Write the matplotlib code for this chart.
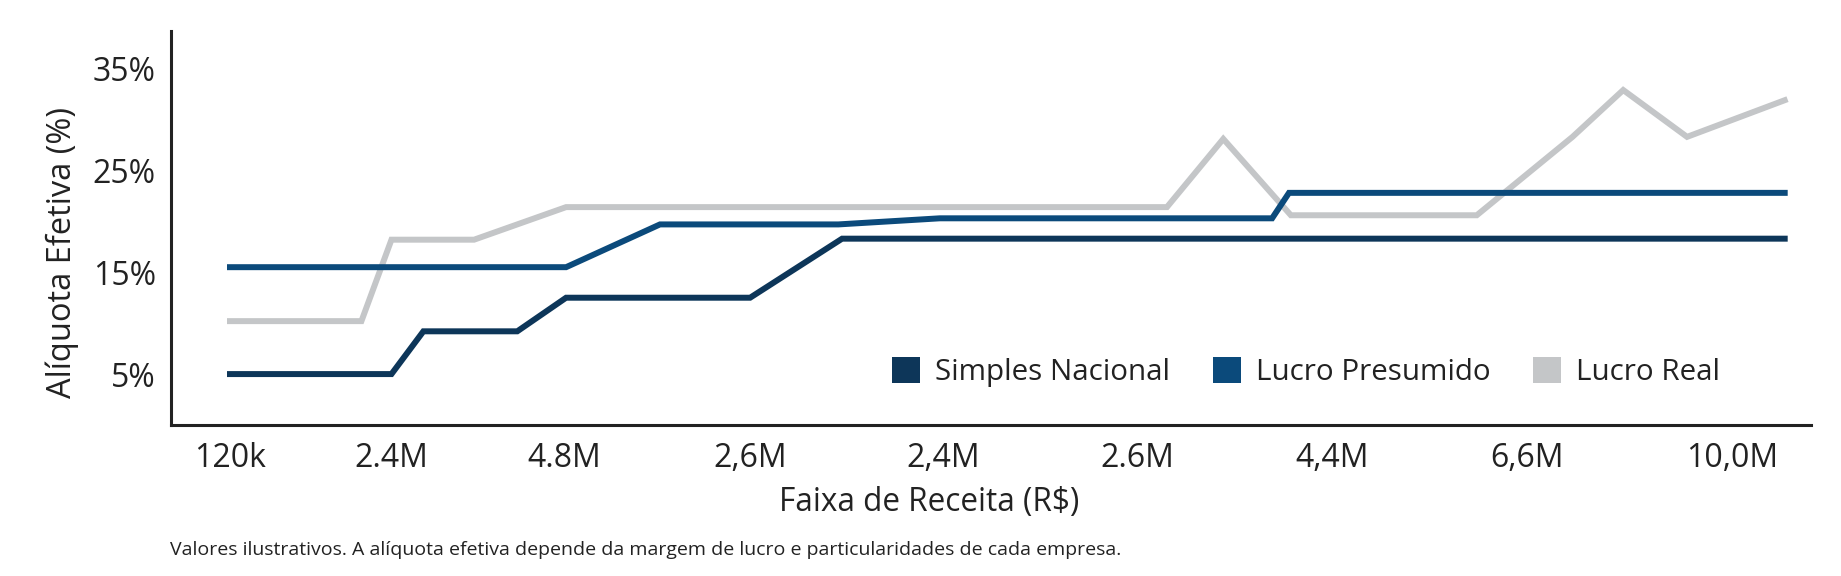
import matplotlib.pyplot as plt
from matplotlib.patches import Patch

plt.rcParams['font.family'] = ['Open Sans', 'DejaVu Sans']

# Posições das faixas no eixo (unidade = largura média de uma faixa)
faixas_pos = [0, 0.86, 1.78, 2.77, 3.80, 4.83, 5.87, 6.91, 8.0]
faixas_rotulos = ['120k', '2.4M', '4.8M', '2,6M', '2,4M', '2.6M', '4,4M', '6,6M', '10,0M']

# Simples Nacional
x_simples = [0, 0.86, 1.03, 1.53, 1.79, 2.77, 3.26, 8.28]
y_simples = [5.0, 5.0, 9.2, 9.2, 12.5, 12.5, 18.3, 18.3]

# Lucro Presumido
x_presumido = [0, 1.79, 2.29, 3.24, 3.78, 5.55, 5.64, 8.28]
y_presumido = [15.5, 15.5, 19.7, 19.7, 20.3, 20.3, 22.8, 22.8]

# Lucro Real
x_real = [0, 0.70, 0.86, 1.30, 1.79, 4.99, 5.29, 5.65, 6.64, 7.15, 7.42, 7.76, 8.28]
y_real = [10.2, 10.2, 18.2, 18.2, 21.4, 21.4, 28.1, 20.6, 20.6, 28.3, 32.9, 28.3, 31.9]

cor_simples = '#0d3659'
cor_presumido = '#0b4a7b'
cor_real = '#c4c6c8'
cor_texto = '#222222'

fig = plt.figure(figsize=(18.41, 5.76), dpi=100)
ax = fig.add_axes([0.0929, 0.2622, 0.8908, 0.684])

ax.plot(x_real, y_real, color=cor_real, lw=4.3, solid_joinstyle='miter', zorder=2)
ax.plot(x_presumido, y_presumido, color=cor_presumido, lw=4.3, solid_joinstyle='miter', zorder=3)
ax.plot(x_simples, y_simples, color=cor_simples, lw=4.3, solid_joinstyle='miter', zorder=4)

ax.set_xlim(-0.314, 8.42)
ax.set_ylim(0, 38.7)

ax.set_yticks([5, 15, 25, 35])
ax.set_yticklabels(['5%', '15%', '25%', '35%'])
ax.set_xticks(faixas_pos)
ax.set_xticklabels(faixas_rotulos)
ax.tick_params(axis='both', length=0, labelsize=23, colors=cor_texto)
ax.tick_params(axis='y', pad=11)
ax.tick_params(axis='x', pad=12)

for lado in ['top', 'right']:
    ax.spines[lado].set_visible(False)
for lado in ['left', 'bottom']:
    ax.spines[lado].set_linewidth(2.2)
    ax.spines[lado].set_color(cor_texto)

# Legenda
handles = [Patch(facecolor=cor_simples, label='Simples Nacional'),
           Patch(facecolor=cor_presumido, label='Lucro Presumido'),
           Patch(facecolor=cor_real, label='Lucro Real')]
ax.legend(handles=handles, loc='center', bbox_to_anchor=(0.692, 0.1345), ncol=3,
          frameon=False, fontsize=21.3, handlelength=0.95, handleheight=1.0,
          handletextpad=0.5, columnspacing=1.45, labelcolor=cor_texto)

fig.text(62 / 1841, 1 - 252 / 576, 'Alíquota Efetiva (%)', rotation=90,
         ha='center', va='center', fontsize=23.5, color=cor_texto)
fig.text(929 / 1841, 1 - 502 / 576, 'Faixa de Receita (R$)',
         ha='center', va='center', fontsize=22.7, color=cor_texto)
fig.text(170 / 1841, 1 - 550 / 576,
         'Valores ilustrativos. A alíquota efetiva depende da margem de lucro e particularidades de cada empresa.',
         ha='left', va='center', fontsize=14, color=cor_texto)

fig.savefig('out.png', dpi=100, facecolor='white')
